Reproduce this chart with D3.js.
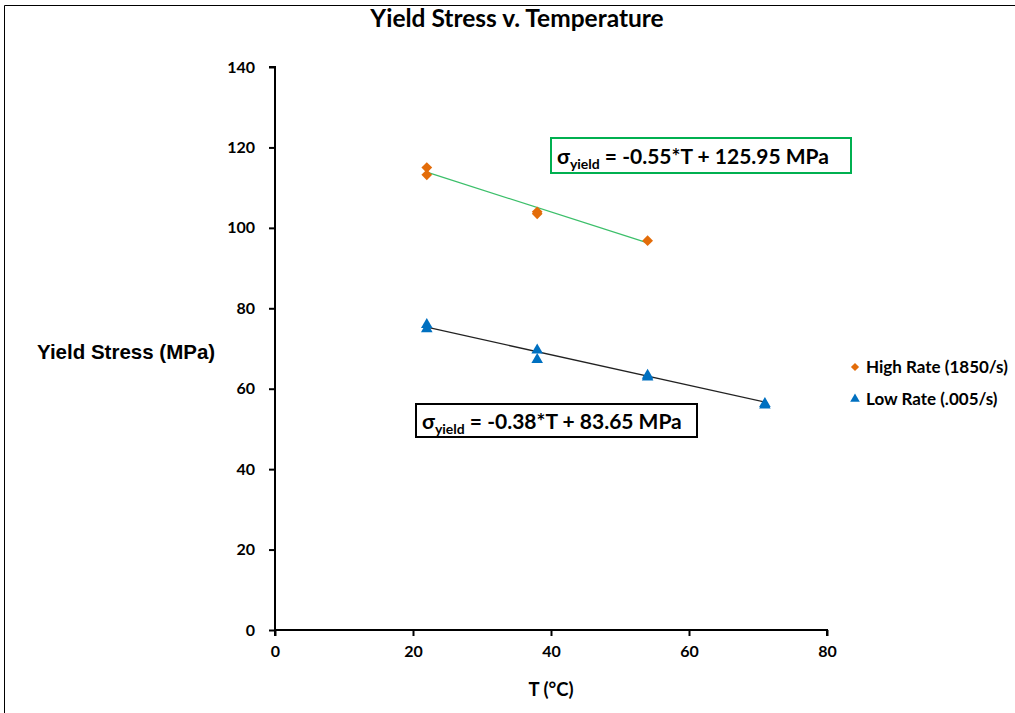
<!DOCTYPE html>
<html>
<head>
<meta charset="utf-8">
<script src="https://cdn.jsdelivr.net/npm/d3@7"></script>
<style>
  body { margin: 0; background: #fff; }
  svg text { font-family: Lato, "Liberation Sans", sans-serif; font-weight: bold; fill: #000; }
</style>
</head>
<body>
<div id="viz-container" style="width:1015px;height:713px;"></div>
<script>
// data
const highT = [22, 22, 38, 38, 54];
const highY = [115, 113.2, 104, 103.5, 96.8];
const lowT = [22, 22, 38, 38, 54, 54, 71, 71];
const lowY = [75.9, 74.9, 69.6, 67.2, 63.3, 62.9, 56.3, 55.9];
// trendline coefficients as printed on the chart
const highFit = { slope: -0.55, icept: 125.95, from: 22, to: 54 };
const lowFit = { slope: -0.38, icept: 83.65, from: 22, to: 71 };
const xTicks = [0, 20, 40, 60, 80];
const yTicks = [0, 20, 40, 60, 80, 100, 120, 140];

const width = 1015, height = 713;
const svg = d3.select("#viz-container").append("svg")
    .attr("width", width).attr("height", height);

// chart frame (only top and left edges visible in the crop)
svg.append("path").attr("d", "M4.5,713 L4.5,5.5 L1015,5.5")
    .attr("fill", "none").attr("stroke", "#000").attr("stroke-width", 1);

const x = d3.scaleLinear().domain([0, 80]).range([275, 827]);
const y = d3.scaleLinear().domain([0, 140]).range([630, 67]);

// axes
const xAxis = svg.append("g").attr("transform", `translate(0,${y(0)})`)
    .call(d3.axisBottom(x).tickValues(xTicks).tickSize(6).tickPadding(10));
const yAxis = svg.append("g").attr("transform", `translate(${x(0)},0)`)
    .call(d3.axisLeft(y).tickValues(yTicks).tickSize(6).tickPadding(14));
[xAxis, yAxis].forEach(a => {
  a.select(".domain").attr("stroke", "#000").attr("stroke-width", 2);
  a.selectAll(".tick line").attr("stroke", "#000").attr("stroke-width", 2);
  a.selectAll(".tick text").style("font-size", "16px").style("font-family", "Lato, sans-serif").style("font-weight", "bold");
});
xAxis.select(".domain").attr("d", `M${x(0)},6V0H${x(80)}V6`);
yAxis.select(".domain").attr("d", `M-6,${y(140)}H0V${y(0)}`);

// trendlines
const line = d3.line().x(d => x(d[0])).y(d => y(d[1]));
function fitPts(f) { return [[f.from, f.slope * f.from + f.icept], [f.to, f.slope * f.to + f.icept]]; }
svg.append("path").attr("d", line(fitPts(highFit)))
    .attr("fill", "none").attr("stroke", "#3cbf6a").attr("stroke-width", 1.3);
svg.append("path").attr("d", line(fitPts(lowFit)))
    .attr("fill", "none").attr("stroke", "#222").attr("stroke-width", 1.3);

// markers
const tri = d3.symbol().type(d3.symbolTriangle).size(58);
svg.append("g").selectAll("path").data(highT.map((t, i) => [t, highY[i]])).join("path")
    .attr("d", d3.symbol().type(d3.symbolSquare).size(58))
    .attr("transform", d => `translate(${x(d[0])},${y(d[1])}) rotate(45)`)
    .attr("fill", "#e36c09");
svg.append("g").selectAll("path").data(lowT.map((t, i) => [t, lowY[i]])).join("path")
    .attr("d", tri)
    .attr("transform", d => `translate(${x(d[0])},${y(d[1])})`)
    .attr("fill", "#0070c0");

// title & axis labels
svg.append("text").attr("x", 517).attr("y", 27).attr("text-anchor", "middle")
    .style("font-size", "24.5px").text("Yield Stress v. Temperature");
svg.append("text").attr("x", 37).attr("y", 359)
    .style("font-family", "'Liberation Sans', Arial, sans-serif").style("font-size", "20.5px")
    .text("Yield Stress (MPa)");
svg.append("text").attr("x", 551).attr("y", 696).attr("text-anchor", "middle")
    .style("font-size", "18.5px").text("T (°C)");

// legend
const legend = [
  { name: "High Rate (1850/s)", color: "#e36c09", shape: "diamond" },
  { name: "Low Rate (.005/s)", color: "#0070c0", shape: "tri" }
];
const lg = svg.append("g").selectAll("g").data(legend).join("g")
    .attr("transform", (d, i) => `translate(855,${367 + i * 32})`);
lg.append("path")
    .attr("d", d => d.shape === "tri" ? d3.symbol().type(d3.symbolTriangle).size(40)() : d3.symbol().type(d3.symbolSquare).size(34)())
    .attr("transform", d => d.shape === "tri" ? "" : "rotate(45)")
    .attr("fill", d => d.color);
lg.append("text").attr("x", 11).attr("dy", "0.35em")
    .style("font-size", "17px").text(d => d.name);

// equation boxes
function eqBox(bx, by, bw, bh, stroke, rest) {
  svg.append("rect").attr("x", bx).attr("y", by).attr("width", bw).attr("height", bh)
      .attr("fill", "#fff").attr("stroke", stroke).attr("stroke-width", 2);
  const t = svg.append("text").attr("x", bx + 6).attr("y", by + bh / 2 + 8)
      .style("font-size", "21px");
  t.append("tspan").text("σ");
  t.append("tspan").attr("dy", 5).style("font-size", "14px").text("yield");
  t.append("tspan").attr("dy", -5).text(" " + rest);
}
eqBox(551, 138, 300, 35, "#00b050", "= -0.55*T + 125.95 MPa");
eqBox(416, 404, 281, 33, "#000", "= -0.38*T + 83.65 MPa");
</script>
</body>
</html>
